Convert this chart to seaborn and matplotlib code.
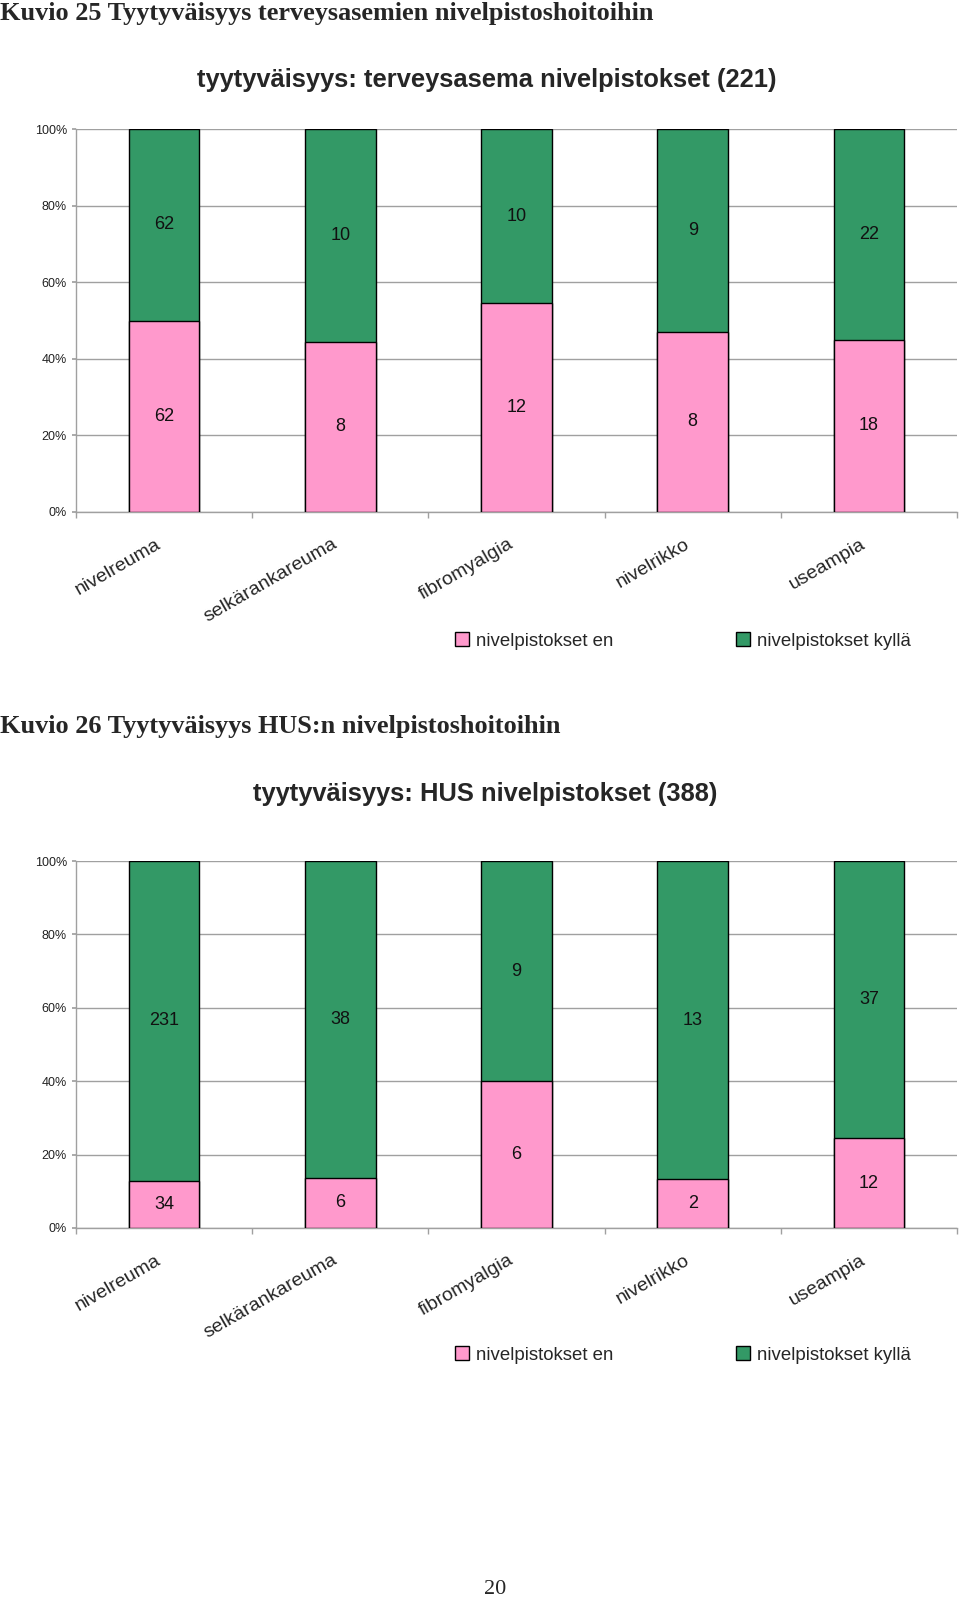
import numpy as np
import pandas as pd
import matplotlib
matplotlib.use("Agg")
import matplotlib.pyplot as plt
import seaborn as sns
from matplotlib.patches import Patch
from matplotlib.ticker import PercentFormatter

# ---------------- data ----------------
categories = ["nivelreuma", "selkärankareuma", "fibromyalgia", "nivelrikko", "useampia"]
terveys_en = [62, 8, 12, 8, 18]
terveys_kylla = [62, 10, 10, 9, 22]
hus_en = [34, 6, 6, 2, 12]
hus_kylla = [231, 38, 9, 13, 37]
series_labels = ["nivelpistokset en", "nivelpistokset kyllä"]
ytick_values = [0, 20, 40, 60, 80, 100]
headings = ["Kuvio 25 Tyytyväisyys terveysasemien nivelpistoshoitoihin",
            "Kuvio 26 Tyytyväisyys HUS:n nivelpistoshoitoihin"]
chart_titles = ["tyytyväisyys: terveysasema nivelpistokset (221)",
                "tyytyväisyys: HUS nivelpistokset (388)"]
page_number = "20"

PINK = "#FF99CC"
GREEN = "#339966"
GRAY = "#A0A0A0"
W, H = 960, 1597

sns.set_theme(style="white")
plt.rcParams["font.family"] = ["Liberation Sans", "DejaVu Sans"]

fig = plt.figure(figsize=(W / 100, H / 100), dpi=100)


def px_axes(left, top, right, bottom):
    return fig.add_axes([left / W, 1 - bottom / H, (right - left) / W, (bottom - top) / H])


def draw(ax, en, kylla):
    en = np.asarray(en, float)
    ky = np.asarray(kylla, float)
    total = en + ky
    df = pd.DataFrame({"cat": categories,
                       "total": total / total * 100,
                       "en": en / total * 100})
    sns.barplot(data=df, x="cat", y="total", color=GREEN, saturation=1, width=0.4,
                edgecolor="black", linewidth=1, errorbar=None, ax=ax, zorder=3)
    sns.barplot(data=df, x="cat", y="en", color=PINK, saturation=1, width=0.4,
                edgecolor="black", linewidth=1, errorbar=None, ax=ax, zorder=3)
    ax.bar_label(ax.containers[1], labels=[str(int(v)) for v in en],
                 label_type="center", fontsize=13, color="#111111")
    for i, (p, k) in enumerate(zip(df["en"], ky)):
        ax.text(i, (p + 100) / 2, str(int(k)), ha="center", va="center",
                fontsize=13, color="#111111", zorder=5)
    ax.set_xlim(-0.5, len(categories) - 0.5)
    ax.set_ylim(0, 100)
    ax.set_yticks(ytick_values)
    ax.yaxis.set_major_formatter(PercentFormatter(decimals=0))
    ax.set_axisbelow(True)
    ax.grid(axis="y", color=GRAY, linewidth=1)
    ax.grid(axis="x", visible=False)
    ax.set_xlabel("")
    ax.set_ylabel("")
    for s in ["top", "right"]:
        ax.spines[s].set_visible(False)
    for s in ["left", "bottom"]:
        ax.spines[s].set_color(GRAY)
        ax.spines[s].set_linewidth(1)
    ax.tick_params(axis="y", labelsize=9, length=3, color=GRAY, direction="out",
                   pad=3.5, left=True, labelcolor="#222222")
    ax.set_xticks(range(len(categories)))
    ax.set_xticklabels(categories, rotation=30, ha="right", fontsize=14)
    ax.tick_params(axis="x", which="major", length=0, pad=17)
    ax.set_xticks(np.arange(-0.5, len(categories), 1.0), minor=True)
    ax.tick_params(axis="x", which="minor", length=4, color=GRAY, direction="out",
                   bottom=True)


ax1 = px_axes(76, 129, 957, 512)
draw(ax1, terveys_en, terveys_kylla)
ax2 = px_axes(76, 861, 957, 1228)
draw(ax2, hus_en, hus_kylla)

# headings and titles
for (hy, ty, tx), head, title in zip([(13.5, 80.5, 487), (726.5, 794, 485)], headings, chart_titles):
    fig.text(0.5 / W, 1 - hy / H, head, family=["Liberation Serif", "DejaVu Serif"],
             weight="bold", fontsize=18.9, ha="left", va="center")
    fig.text(tx / W, 1 - ty / H, title, weight="bold", fontsize=18.4,
             ha="center", va="center")

handles = [Patch(facecolor=PINK, edgecolor="black", linewidth=1),
           Patch(facecolor=GREEN, edgecolor="black", linewidth=1)]
for ly in [641, 1355]:
    fig.legend(handles, series_labels, loc="center", bbox_to_anchor=(683 / W, 1 - ly / H),
               ncol=2, frameon=False, fontsize=13.4, handlelength=0.75, handleheight=0.75,
               handletextpad=0.35, columnspacing=6.6)

fig.text(495 / W, 1 - 1589.5 / H, page_number, family=["Liberation Serif", "DejaVu Serif"],
         fontsize=16, ha="center", va="center")

fig.savefig("out.png", dpi=100)
